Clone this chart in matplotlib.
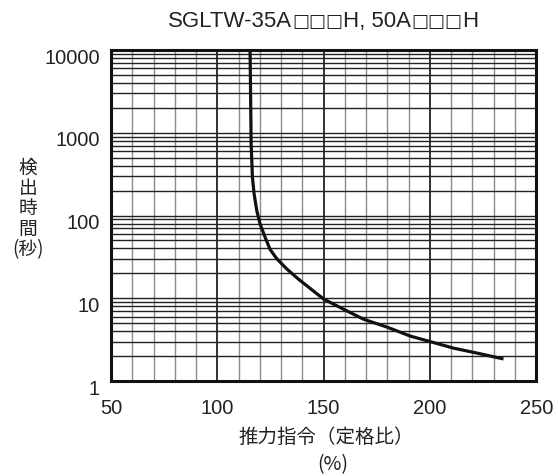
import numpy as np
import matplotlib
matplotlib.use("Agg")
import matplotlib.pyplot as plt
import matplotlib.transforms as mtransforms
from matplotlib.ticker import MultipleLocator, LogLocator, NullFormatter, FixedFormatter

# 推力指令(定格比 %) と検出時間(秒)
thrust = [115.4, 115.9, 116.5, 117.3, 118.6, 120.1, 122.8, 124.8, 128.0, 132.7,
          138.1, 146.0, 150.0, 159.3, 168.7, 179.7, 190.7, 200.1, 211.1, 222.1, 234.6]
detect_time = [10000, 730, 290, 182, 113, 79, 52, 39, 30, 22.6,
               17.1, 11.8, 9.8, 7.4, 5.6, 4.5, 3.5, 3.0, 2.5, 2.18, 1.85]

x_ticks = [50, 100, 150, 200, 250]
y_ticks = [1, 10, 100, 1000, 10000]
y_tick_labels = ["1", "10", "100", "1000", "10000"]

# 型式名 (□ は別フォントで太めに描く)
title_parts = ["SGLTW-35A", "\u25a1\u25a1\u25a1", "H, 50A", "\u25a1\u25a1\u25a1", "H"]
ylabel = "検\n出\n時\n間\n(秒)"
xlabel = "推力指令（定格比）"
xunit = "(%)"

latin = ["Liberation Sans", "DejaVu Sans"]
jp = ["Noto Sans CJK JP", "DejaVu Sans"]
ink = "#222222"

fig = plt.figure(figsize=(5.58, 4.77), dpi=100)
ax = fig.add_axes([0.199, 0.199, 0.762, 0.694])

ax.set_yscale("log")
ax.set_xlim(50, 250)
ax.set_ylim(1, 10000)

# 格子線: 縦は10刻み(50刻みは濃く)、横は対数の補助目盛もすべて
ax.xaxis.set_major_locator(MultipleLocator(50))
ax.xaxis.set_minor_locator(MultipleLocator(10))
ax.yaxis.set_major_locator(LogLocator(base=10, numticks=10))
ax.yaxis.set_minor_locator(LogLocator(base=10, subs=np.arange(2, 10), numticks=10))
ax.yaxis.set_minor_formatter(NullFormatter())

ax.grid(which="minor", axis="x", color="#8c8c8c", linewidth=1.0)
ax.grid(which="major", axis="x", color="#222222", linewidth=1.3)
ax.grid(which="both", axis="y", color="#222222", linewidth=1.0)

ax.set_xticks(x_ticks)
ax.set_yticks(y_ticks)
ax.yaxis.set_major_formatter(FixedFormatter(y_tick_labels))
ax.tick_params(which="both", length=0)
ax.tick_params(axis="x", pad=12)
ax.tick_params(axis="y", pad=8)
for lab in ax.get_xticklabels() + ax.get_yticklabels():
    lab.set_fontfamily(latin)
    lab.set_fontsize(14.5)
    lab.set_color(ink)

# 縦軸の数値は線より少し下に置く
shift = mtransforms.ScaledTranslation(0, -5 / 100, fig.dpi_scale_trans)
for lab in ax.get_yticklabels():
    lab.set_transform(lab.get_transform() + shift)

for sp in ax.spines.values():
    sp.set_linewidth(2.2)
    sp.set_color("#111111")

ax.plot(thrust, detect_time, color="#111111", linewidth=2.3,
        solid_capstyle="butt", solid_joinstyle="round", zorder=5)

# タイトルを部品ごとに左から並べる
renderer = fig.canvas.get_renderer()
x_px = 168
base_y = 1 - 27 / 477
for i, part in enumerate(title_parts):
    if i % 2 == 1:
        t = fig.text(x_px / 558, base_y, part, ha="left", va="baseline",
                     fontsize=13, family=["DejaVu Sans"], fontweight="bold", color=ink)
    else:
        t = fig.text(x_px / 558, base_y, part, ha="left", va="baseline",
                     fontsize=16, family=latin, color=ink)
    x_px += t.get_window_extent(renderer).width

fig.text(28 / 558, 1 - 209 / 477, ylabel, ha="center", va="center",
         fontsize=13.5, family=jp, linespacing=0.97, color=ink)
fig.text(326 / 558, 1 - 437 / 477, xlabel, ha="center", va="center",
         fontsize=14, family=jp, color=ink)
fig.text(333 / 558, 1 - 465 / 477, xunit, ha="center", va="center",
         fontsize=14, family=jp, color=ink)

fig.savefig("out.png", dpi=100)
